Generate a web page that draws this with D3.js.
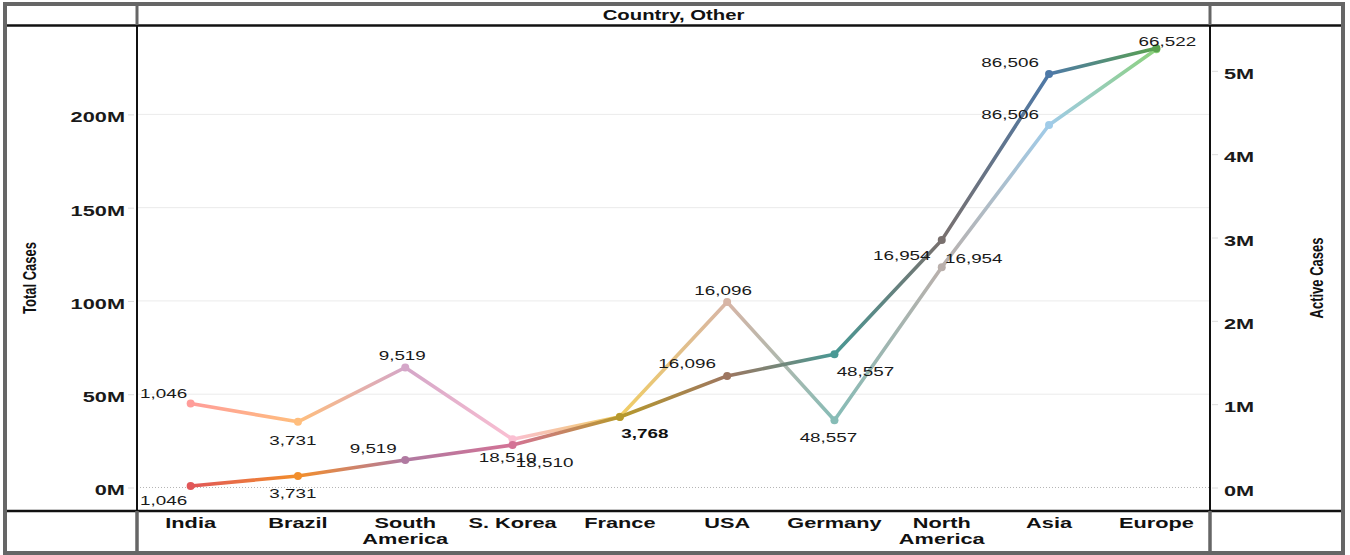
<!DOCTYPE html>
<html>
<head>
<meta charset="utf-8">
<script src="https://cdn.jsdelivr.net/npm/d3@7"></script>
<style>
  html, body { margin: 0; padding: 0; background: #fff; }
  svg { display: block; }
  text { font-family: "Liberation Sans", Arial, sans-serif; }
</style>
</head>
<body>
<svg id="chart" width="1350" height="555"></svg>
<script>
// ---------------- data ----------------
const categories = ["India", "Brazil", "South America", "S. Korea", "France", "USA", "Germany", "North America", "Asia", "Europe"];
const categoryLabelLines = [["India"], ["Brazil"], ["South", "America"], ["S. Korea"], ["France"], ["USA"], ["Germany"], ["North", "America"], ["Asia"], ["Europe"]];
// Total Cases (millions, left axis)
const totalCasesM = [0.8, 6.2, 14.7, 22.8, 37.8, 59.8, 71.4, 132.6, 221.6, 235.4];
// Active Cases (millions, right axis)
const activeCasesM = [1.008, 0.788, 1.44, 0.578, 0.848, 2.225, 0.808, 2.644, 4.35, 5.26];
// point labels
const pointLabels = [1046, 3731, 9519, 18510, 3768, 16096, 48557, 16954, 86506, 66522];
const leftTicks = [0, 50, 100, 150, 200];
const rightTicks = [0, 1, 2, 3, 4, 5];
const headerTitle = "Country, Other";
const leftTitle = "Total Cases";
const rightTitle = "Active Cases";

// ---------------- styles / layout ----------------
const totalColors = ["#E15759", "#F28E2B", "#B07AA1", "#D37295", "#B6992D", "#9D7660", "#499894", "#79706E", "#4E79A7", "#59A14F"];
const activeColors = ["#FF9D9A", "#FFBE7D", "#D4A6C8", "#FABFD2", "#F1CE63", "#D7B5A6", "#86BCB6", "#BAB0AC", "#A0CBE8", "#8CD17D"];
const activeLabelOffsets = [[-27, -10], [-5, 18], [-3, -12], [-5, 18], [25, 16], [-4, -12], [-6, 17], [32, -9], [-39, -11], [11, -8]];
const totalLabelOffsets = [[-27, 14], [-5, 17], [-32, -12], [32, 17], [25, 16], [-40, -13], [31, 17], [-40, 15], [-39, -12], null];
const SX = 1.45; // horizontal text stretch

const plot = { left: 137, right: 1210, top: 25, bottom: 511 };

const svg = d3.select("#chart");

const x = d3.scalePoint().domain(categories).range([plot.left, plot.right]).padding(0.5);
const yL = d3.scaleLinear().domain([-12.6, 247.9]).range([plot.bottom, plot.top]);
const yR = d3.scaleLinear().domain([-0.282, 5.55]).range([plot.bottom, plot.top]);

// gridlines
svg.append("g").selectAll("line").data(leftTicks.filter(d => d !== 0)).join("line")
  .attr("x1", plot.left).attr("x2", plot.right)
  .attr("y1", d => yL(d)).attr("y2", d => yL(d))
  .attr("stroke", "#ebebeb").attr("stroke-width", 1);
svg.append("line")
  .attr("x1", plot.left).attr("x2", plot.right)
  .attr("y1", yL(0)).attr("y2", yL(0))
  .attr("stroke", "#b5b5b5").attr("stroke-width", 1).attr("stroke-dasharray", "1,2");

// stretched text helper
function sText(g, tx, ty, str, opts) {
  const grp = g.append("g").attr("transform", `translate(${tx},${ty}) scale(${SX},1)`);
  const t = grp.append("text").attr("x", 0).attr("y", 0)
    .attr("text-anchor", opts.anchor || "middle")
    .attr("dy", opts.dy || "0.36em")
    .attr("font-size", opts.size || 13)
    .attr("font-weight", opts.weight || "normal")
    .attr("fill", opts.fill || "#1a1a1a")
    .text(str);
  return t;
}

// axes
const axL = svg.append("g").attr("transform", `translate(134,0)`)
  .call(d3.axisLeft(yL).tickValues(leftTicks).tickSize(6).tickFormat(d => d + "M"));
axL.select(".domain").remove();
axL.selectAll(".tick line").attr("stroke", "#dcdcdc");
axL.selectAll(".tick text")
  .attr("x", 0).attr("dy", "0.5em")
  .attr("transform", `translate(-9,0) scale(${SX},1)`)
  .attr("font-size", 15).attr("font-weight", "bold").attr("fill", "#1a1a1a")
  .attr("font-family", "Liberation Sans, Arial, sans-serif");

const axR = svg.append("g").attr("transform", `translate(1212,0)`)
  .call(d3.axisRight(yR).tickValues(rightTicks).tickSize(6).tickFormat(d => d + "M"));
axR.select(".domain").remove();
axR.selectAll(".tick line").attr("stroke", "#dcdcdc");
axR.selectAll(".tick text")
  .attr("x", 0).attr("dy", "0.5em")
  .attr("transform", `translate(12,0) scale(${SX},1)`)
  .attr("font-size", 15).attr("font-weight", "bold").attr("fill", "#1a1a1a")
  .attr("font-family", "Liberation Sans, Arial, sans-serif");

// axis titles (rotated)
svg.append("g").attr("transform", `translate(29,${(plot.top + plot.bottom) / 2 + 10}) scale(${SX},1) rotate(-90)`)
  .append("text").attr("text-anchor", "middle").attr("dy", "0.35em")
  .attr("font-size", 13).attr("font-weight", "bold").attr("fill", "#111").text(leftTitle);
svg.append("g").attr("transform", `translate(1316,${(plot.top + plot.bottom) / 2 + 10}) scale(${SX},1) rotate(-90)`)
  .append("text").attr("text-anchor", "middle").attr("dy", "0.35em")
  .attr("font-size", 13).attr("font-weight", "bold").attr("fill", "#111").text(rightTitle);

// header
sText(svg, (plot.left + plot.right) / 2, 15, headerTitle, { size: 14, weight: "bold", fill: "#111" });

// category labels
const catG = svg.append("g");
categories.forEach((c, i) => {
  categoryLabelLines[i].forEach((ln, j) => {
    sText(catG, x(c), 523 + j * 16, ln, { size: 15, weight: "bold", fill: "#111" });
  });
});

// gradient lines
const defs = svg.append("defs");
function drawSeries(values, yScale, colors, id) {
  const pts = categories.map((c, i) => [x(c), yScale(values[i])]);
  const g = svg.append("g");
  for (let i = 0; i < pts.length - 1; i++) {
    const gid = `${id}-grad-${i}`;
    const lg = defs.append("linearGradient").attr("id", gid)
      .attr("gradientUnits", "userSpaceOnUse")
      .attr("x1", pts[i][0]).attr("y1", pts[i][1])
      .attr("x2", pts[i + 1][0]).attr("y2", pts[i + 1][1]);
    lg.append("stop").attr("offset", "0%").attr("stop-color", colors[i]);
    lg.append("stop").attr("offset", "100%").attr("stop-color", colors[i + 1]);
    g.append("path")
      .attr("d", d3.line()([pts[i], pts[i + 1]]))
      .attr("stroke", `url(#${gid})`).attr("stroke-width", 3.6)
      .attr("stroke-linecap", "round").attr("fill", "none");
  }
  g.selectAll("circle").data(pts).join("circle")
    .attr("cx", d => d[0]).attr("cy", d => d[1]).attr("r", 4)
    .attr("fill", (d, i) => colors[i]);
  return pts;
}
const activePts = drawSeries(activeCasesM, yR, activeColors, "active");
const totalPts = drawSeries(totalCasesM, yL, totalColors, "total");

// point labels (labels of both series stacked on the same spot render bold)
const fmt = d3.format(",");
const labG = svg.append("g");
const placed = [];
function placeLabel(p, o, i) {
  const lx = p[0] + o[0], ly = p[1] + o[1];
  const dup = placed.find(q => Math.abs(q.x - lx) < 2 && Math.abs(q.y - ly) < 2 && q.i === i);
  if (dup) { dup.t.attr("font-weight", "bold").attr("fill", "#111"); return; }
  const t = sText(labG, lx, ly, fmt(pointLabels[i]), { size: 13 });
  placed.push({ x: lx, y: ly, i: i, t: t });
}
activePts.forEach((p, i) => { const o = activeLabelOffsets[i]; if (o) placeLabel(p, o, i); });
totalPts.forEach((p, i) => { const o = totalLabelOffsets[i]; if (o) placeLabel(p, o, i); });

// frame / table lines
const frame = svg.append("g");
frame.append("line").attr("x1", 5).attr("x2", 1343).attr("y1", 25.5).attr("y2", 25.5).attr("stroke", "#111").attr("stroke-width", 2.5);
frame.append("line").attr("x1", 5).attr("x2", 1343).attr("y1", plot.bottom).attr("y2", plot.bottom).attr("stroke", "#111").attr("stroke-width", 2.5);
[plot.left, plot.right].forEach(vx => {
  frame.append("line").attr("x1", vx).attr("x2", vx).attr("y1", 4).attr("y2", 25).attr("stroke", "#666").attr("stroke-width", 3);
  frame.append("line").attr("x1", vx).attr("x2", vx).attr("y1", 25).attr("y2", plot.bottom).attr("stroke", "#111").attr("stroke-width", 2);
  frame.append("line").attr("x1", vx).attr("x2", vx).attr("y1", plot.bottom).attr("y2", 553).attr("stroke", "#666").attr("stroke-width", 3.5);
});
frame.append("rect").attr("x", 5).attr("y", 4).attr("width", 1338).attr("height", 549)
  .attr("fill", "none").attr("stroke", "#666").attr("stroke-width", 4);
</script>
</body>
</html>
